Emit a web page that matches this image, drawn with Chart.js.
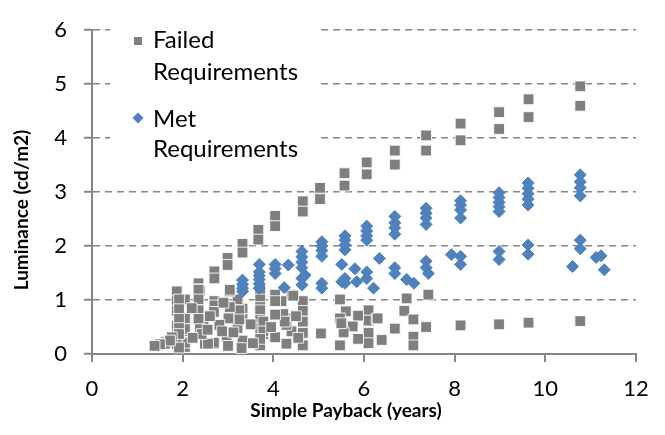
<!DOCTYPE html>
<html>
<head>
<meta charset="utf-8">
<script src="https://cdn.jsdelivr.net/npm/chart.js@4"></script>
<style>
  html, body { margin: 0; padding: 0; background: #fff; }
  #wrap { width: 665px; height: 435px; }
</style>
</head>
<body>
<div id="wrap"><canvas id="payback" width="665" height="435"></canvas></div>
<script>
// series names (legend wraps them on two lines)
const seriesNames = [["Failed", "Requirements"], ["Met", "Requirements"]];
const xTitle = "Simple Payback (years)";
const yTitle = "Luminance (cd/m2)";
const xTicks = [0, 2, 4, 6, 8, 10, 12];
const yTicks = [0, 1, 2, 3, 4, 5, 6];

// Failed Requirements - payback (years) / luminance (cd/m2)
const failedPayback = [
  2.35, 2.35, 2.70, 2.70, 2.99, 2.99, 3.32, 3.32, 3.67, 3.67, 4.04, 4.04,
  4.65, 4.65, 5.03, 5.03, 5.57, 5.57, 6.06, 6.06, 6.68, 6.68, 7.37, 7.37,
  8.13, 8.13, 8.98, 8.98, 9.63, 9.63, 10.77, 10.77,
  7.37, 7.42, 8.13, 8.98, 9.63, 10.77,
  6.94, 6.89, 7.09, 7.09, 7.09, 6.68, 6.39,
  6.10, 6.10, 6.10, 6.10, 6.28, 6.30,
  5.87, 5.87, 5.75, 5.60, 5.55, 5.47, 5.47, 5.47, 5.50, 5.05,
  4.65, 4.65, 4.65, 4.65, 4.65, 4.40, 4.40, 4.44,
  4.29, 4.29, 4.29, 4.18, 4.22, 4.25, 4.04, 4.04, 4.04, 4.04,
  3.71, 3.71, 3.71, 3.71, 3.71, 3.71, 3.78, 3.71, 3.78, 3.78, 3.71,
  3.32, 3.32, 3.32, 3.21, 3.21, 3.25, 3.30, 3.25,
  3.03, 3.01, 2.97, 3.04, 3.04, 3.00, 2.81, 2.87,
  2.70, 2.70, 2.70, 2.69, 2.69, 2.49, 2.56, 2.46, 2.46,
  2.38, 2.35, 2.35, 2.35, 2.35, 2.38, 2.42,
  2.05, 2.05, 2.05, 2.05, 2.05, 2.05,
  1.87, 1.87, 1.87, 1.87, 1.87, 1.87, 1.92, 1.92, 1.92, 1.92, 1.92, 1.92,
  1.63, 1.43, 1.76, 1.61, 1.72, 1.50, 1.38,
  2.20, 2.22, 2.55, 2.60, 2.90, 3.12, 3.50, 3.55, 3.95, 4.50, 4.55
];
const failedLuminance = [
  1.31, 1.20, 1.53, 1.40, 1.78, 1.65, 2.04, 1.88, 2.30, 2.12, 2.56, 2.37,
  2.83, 2.64, 3.08, 2.87, 3.35, 3.12, 3.55, 3.33, 3.77, 3.51, 4.05, 3.77,
  4.27, 3.96, 4.48, 4.17, 4.72, 4.39, 4.96, 4.60,
  0.50, 1.10, 0.53, 0.55, 0.58, 0.61,
  1.03, 0.80, 0.64, 0.32, 0.16, 0.47, 0.26,
  0.81, 0.62, 0.39, 0.20, 0.65, 0.66,
  0.71, 0.28, 0.51, 0.79, 0.40, 1.01, 0.16, 0.66, 0.57, 0.38,
  0.98, 0.80, 0.60, 0.39, 0.16, 1.10, 0.42, 1.08,
  0.66, 0.54, 0.19, 0.98, 0.74, 0.60, 1.10, 0.73, 0.31, 0.98,
  1.19, 1.01, 0.87, 0.81, 0.63, 0.48, 0.37, 0.16, 0.60, 0.42, 0.28,
  0.84, 0.65, 0.25, 1.01, 0.48, 0.81, 0.11, 0.64,
  1.16, 0.66, 0.31, 1.19, 0.87, 0.15, 0.54, 0.42,
  0.98, 0.90, 0.19, 0.78, 0.21, 0.19, 0.19, 0.66, 0.52,
  1.16, 1.19, 1.01, 0.81, 0.65, 0.46, 0.37,
  1.01, 0.66, 0.42, 0.13, 0.46, 0.21,
  1.16, 0.98, 0.80, 0.52, 0.36, 0.18, 1.01, 0.83, 0.65, 0.48, 0.37, 0.12,
  0.22, 0.16, 0.31, 0.19, 0.25, 0.18, 0.15,
  0.85, 0.30, 0.45, 0.70, 0.95, 0.40, 0.55, 0.20, 0.50, 0.70, 0.30
];

// Met Requirements
const metPayback = [
  3.32, 3.32, 3.32, 3.32,
  3.69, 3.69, 3.69, 3.69, 3.69, 3.69,
  4.04, 4.04, 4.04, 4.33, 4.24,
  4.63, 4.63, 4.63, 4.63, 4.63, 4.63, 4.70,
  5.07, 5.07, 5.07, 5.07, 5.07, 5.07,
  5.58, 5.58, 5.58, 5.58, 5.58, 5.58, 5.51, 5.51, 5.80, 5.84,
  6.06, 6.06, 6.06, 6.06, 6.06, 6.06, 6.21, 6.34,
  6.68, 6.68, 6.68, 6.68, 6.68, 6.68, 6.94, 7.10,
  7.37, 7.37, 7.37, 7.37, 7.37, 7.37, 7.42, 7.93,
  8.13, 8.13, 8.13, 8.13, 8.13, 8.13,
  8.98, 8.98, 8.98, 8.98, 8.98, 8.98, 8.98,
  9.62, 9.62, 9.62, 9.62, 9.62, 9.62, 9.62,
  10.77, 10.77, 10.77, 10.77, 10.77, 10.77,
  10.60, 11.12, 11.23, 11.30
];
const metLuminance = [
  1.37, 1.29, 1.22, 1.16,
  1.66, 1.52, 1.45, 1.38, 1.30, 1.22,
  1.66, 1.58, 1.49, 1.65, 1.23,
  1.90, 1.80, 1.70, 1.60, 1.40, 1.28, 1.46,
  2.08, 2.00, 1.92, 1.81, 1.31, 1.22,
  2.19, 2.11, 2.02, 1.93, 1.40, 1.31, 1.66, 1.34, 1.58, 1.34,
  2.37, 2.28, 2.19, 2.11, 1.52, 1.40, 1.22, 1.77,
  2.55, 2.43, 2.34, 2.22, 1.60, 1.49, 1.38, 1.31,
  2.70, 2.61, 2.52, 2.40, 1.72, 1.60, 1.49, 1.84,
  2.84, 2.76, 2.67, 2.52, 1.81, 1.66,
  2.99, 2.90, 2.81, 2.73, 2.64, 1.90, 1.75,
  3.17, 3.07, 2.97, 2.87, 2.76, 2.02, 1.85,
  3.32, 3.19, 3.08, 2.93, 2.11, 1.95,
  1.62, 1.79, 1.82, 1.56
];

const grey = '#7f7f7f';
const blue = '#4f81bd';
const axisGrey = '#868686';
const fontFamily = 'Lato, "Open Sans", sans-serif';

function toPoints(xs, ys) {
  return xs.map((x, i) => ({ x: x, y: ys[i] }));
}

// legend + axis titles drawn by hand, so the names can wrap like the original
const extras = {
  id: 'extras',
  afterDraw(chart) {
    const ctx = chart.ctx;
    ctx.save();

    // legend box
    ctx.fillStyle = '#fff';
    ctx.fillRect(110, 22, 210, 146);
    ctx.font = '24px ' + fontFamily;
    ctx.textBaseline = 'alphabetic';
    ctx.textAlign = 'left';

    ctx.fillStyle = grey;
    ctx.fillRect(134, 37, 8, 8);
    ctx.fillStyle = blue;
    ctx.beginPath();
    ctx.moveTo(138, 112.5);
    ctx.lineTo(143.5, 118);
    ctx.lineTo(138, 123.5);
    ctx.lineTo(132.5, 118);
    ctx.closePath();
    ctx.fill();

    ctx.fillStyle = '#000';
    ctx.fillText(seriesNames[0][0], 153, 48);
    ctx.fillText(seriesNames[0][1], 153, 80);
    ctx.fillText(seriesNames[1][0], 153, 127);
    ctx.fillText(seriesNames[1][1], 153, 157);

    // axis titles
    ctx.font = 'bold 19px ' + fontFamily;
    ctx.textAlign = 'center';
    ctx.textBaseline = 'middle';
    ctx.fillText(xTitle, 346, 411);
    ctx.translate(22, 210);
    ctx.rotate(-Math.PI / 2);
    ctx.fillText(yTitle, 0, 0);
    ctx.restore();
  }
};

const ctx = document.getElementById('payback').getContext('2d');
new Chart(ctx, {
  type: 'scatter',
  data: {
    datasets: [{
      label: seriesNames[0].join(' '),
      data: toPoints(failedPayback, failedLuminance),
      pointStyle: 'rect',
      pointRadius: 7.6,
      backgroundColor: grey,
      borderColor: 'rgba(255,255,255,0.85)',
      borderWidth: 1,
      order: 1
    }, {
      label: seriesNames[1].join(' '),
      data: toPoints(metPayback, metLuminance),
      pointStyle: 'rectRot',
      pointRadius: 6,
      backgroundColor: blue,
      borderColor: blue,
      borderWidth: 1,
      order: 0
    }]
  },
  options: {
    responsive: false,
    animation: false,
    layout: { padding: { left: 0, right: 29, top: 15, bottom: 0 } },
    plugins: {
      legend: { display: false },
      tooltip: { enabled: false }
    },
    scales: {
      x: {
        type: 'linear',
        min: xTicks[0],
        max: xTicks[xTicks.length - 1],
        afterBuildTicks: (s) => { s.ticks = xTicks.map(v => ({ value: v })); },
        afterFit: (s) => { s.height = 81; },
        ticks: { color: '#000', padding: 14, font: { family: fontFamily, size: 22 } },
        grid: { drawOnChartArea: false, drawTicks: true, tickLength: 8, color: axisGrey, lineWidth: 2 },
        border: { color: axisGrey, width: 2 }
      },
      y: {
        min: yTicks[0],
        max: yTicks[yTicks.length - 1],
        afterBuildTicks: (s) => { s.ticks = yTicks.map(v => ({ value: v })); },
        afterFit: (s) => { s.width = 92; },
        ticks: { color: '#000', padding: 17, font: { family: fontFamily, size: 22 } },
        grid: { color: axisGrey, lineWidth: 1.5, tickLength: 8, tickWidth: 2, tickColor: axisGrey },
        border: { color: axisGrey, width: 2, dash: [7, 5] }
      }
    }
  },
  plugins: [extras]
});
</script>
</body>
</html>
